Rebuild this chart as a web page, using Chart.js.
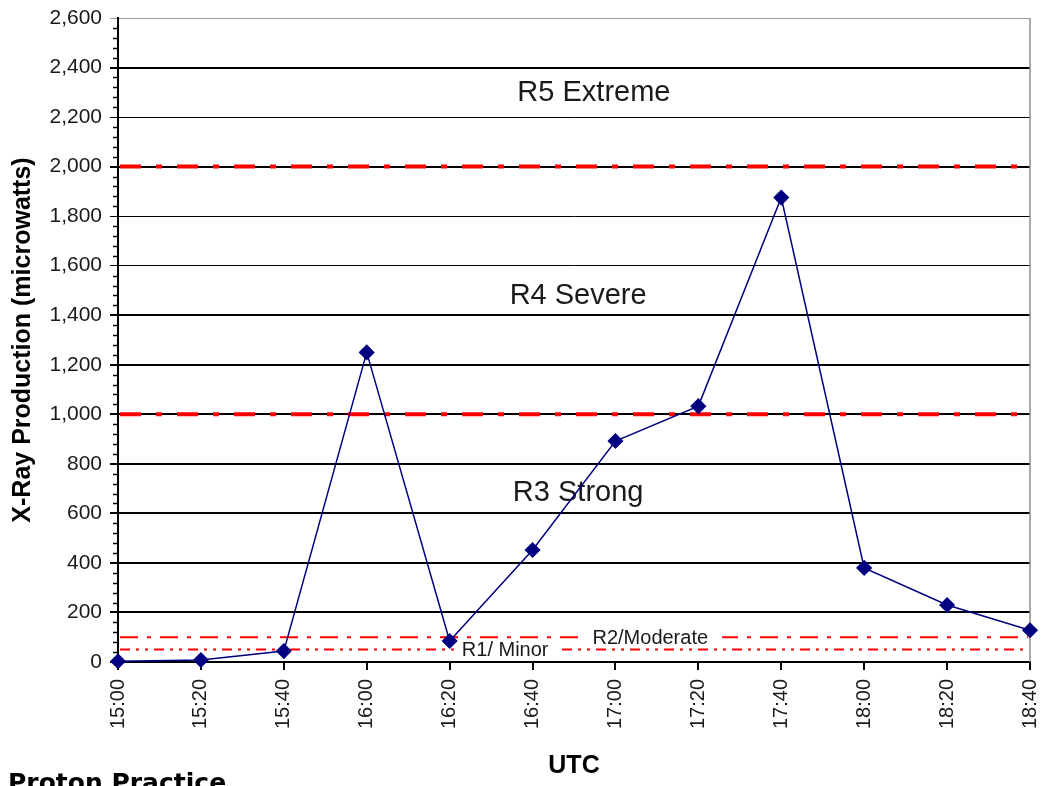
<!DOCTYPE html>
<html>
<head>
<meta charset="utf-8">
<script src="https://cdn.jsdelivr.net/npm/chart.js@4.4.1/dist/chart.umd.min.js"></script>
<style>
    html, body { margin: 0; padding: 0; background: #fff; overflow: hidden; }
    #marco { position: relative; width: 1045px; height: 786px; }
    #practica {
        position: absolute; left: 8px; top: 770px;
        font: bold 25px "DejaVu Sans", sans-serif; line-height: 1; color: #000;
        white-space: nowrap;
    }
</style>
</head>
<body>
<div id="marco">
    <canvas id="grafico" width="1045" height="786"></canvas>
    <div id="practica">Proton Practice</div>
</div>
<script>
// ---------------------------------------------------------
// DATOS
// ---------------------------------------------------------
const horas = ['15:00', '15:20', '15:40', '16:00', '16:20', '16:40', '17:00', '17:20', '17:40', '18:00', '18:20', '18:40'];
const rayosX = [3, 8, 44, 1250, 85, 452, 892, 1033, 1875, 380, 230, 128];

const umbrales = [2000, 1000, 100, 50];
const zonasTexto = ['R5 Extreme', 'R4 Severe', 'R3 Strong', 'R2/Moderate', 'R1/ Minor'];
const zonasValor = [2300, 1480, 686, 100, 50];

// ---------------------------------------------------------
// ESTILOS DE LAS LINEAS DE UMBRAL Y ETIQUETAS
// ---------------------------------------------------------
const estiloUmbral = [
    { ancho: 4, guion: [21, 15, 6, 15] },
    { ancho: 4, guion: [21, 15, 6, 15] },
    { ancho: 2, guion: [18, 9, 4, 9] },
    { ancho: 2, guion: [10, 6, 3, 6, 3, 6] }
];
// indice de categoria (posicion x), tamaño de letra, hueco blanco
const estiloZona = [
    { idx: 5.74, tam: 29, hueco: 0 },
    { idx: 5.55, tam: 29, hueco: 0 },
    { idx: 5.55, tam: 29, hueco: 0 },
    { idx: 6.42, tam: 20, hueco: 14 },
    { idx: 4.67, tam: 20, hueco: 8 }
];

const fuente = '"Liberation Sans", Arial, sans-serif';

const pluginUmbrales = {
    id: 'umbrales',
    beforeDatasetsDraw(chart) {
        const { ctx, chartArea, scales } = chart;
        const y = scales.y, x = scales.x;
        ctx.save();

        // borde derecho gris
        ctx.strokeStyle = '#8c8c8c';
        ctx.lineWidth = 1.5;
        ctx.beginPath();
        ctx.moveTo(chartArea.right, chartArea.top);
        ctx.lineTo(chartArea.right, chartArea.bottom);
        ctx.stroke();

        // marcas menores del eje Y cada 40
        ctx.strokeStyle = '#000';
        ctx.lineWidth = 1.5;
        for (let v = 0; v <= y.max; v += 40) {
            if (v % 200 === 0) continue;
            const py = Math.round(y.getPixelForValue(v)) + 0.5;
            ctx.beginPath();
            ctx.moveTo(chartArea.left - 5, py);
            ctx.lineTo(chartArea.left, py);
            ctx.stroke();
        }

        // lineas rojas de umbral
        ctx.strokeStyle = '#ff0000';
        umbrales.forEach((u, i) => {
            const py = y.getPixelForValue(u);
            ctx.lineWidth = estiloUmbral[i].ancho;
            ctx.setLineDash(estiloUmbral[i].guion);
            ctx.beginPath();
            ctx.moveTo(chartArea.left + 2, py);
            ctx.lineTo(chartArea.right - 2, py);
            ctx.stroke();
        });
        ctx.setLineDash([]);

        // etiquetas de zonas
        ctx.textAlign = 'center';
        ctx.textBaseline = 'middle';
        zonasTexto.forEach((t, i) => {
            const est = estiloZona[i];
            const px = x.left + (x.right - x.left) * est.idx / (horas.length - 1);
            const py = y.getPixelForValue(zonasValor[i]);
            ctx.font = est.tam + 'px ' + fuente;
            if (est.hueco) {
                const w = ctx.measureText(t).width;
                ctx.fillStyle = '#fff';
                ctx.fillRect(px - w / 2 - est.hueco, py - est.tam * 0.45, w + est.hueco * 2, est.tam * 0.9);
            }
            ctx.fillStyle = '#1a1a1a';
            ctx.fillText(t, px, py + 1);
        });
        ctx.restore();
    }
};

const gruesas = [2400, 2000, 1400, 1200, 1000, 800, 600, 400, 200, 0];

new Chart(document.getElementById('grafico'), {
    type: 'line',
    data: {
        labels: horas,
        datasets: [{
            data: rayosX,
            borderColor: '#000080',
            backgroundColor: '#000080',
            borderWidth: 1.5,
            pointStyle: 'rectRot',
            pointRadius: 7,
            pointHoverRadius: 7,
            tension: 0,
            clip: false
        }]
    },
    options: {
        responsive: false,
        animation: false,
        events: [],
        layout: { padding: { top: 18, right: 15, left: 0, bottom: 0 } },
        plugins: {
            legend: { display: false },
            tooltip: { enabled: false }
        },
        scales: {
            x: {
                offset: false,
                afterFit(scale) {
                    scale.height = 124;
                    scale.paddingLeft = 0;
                    scale.paddingRight = 0;
                },
                grid: { drawOnChartArea: false, drawTicks: true, tickLength: 8, color: '#000', lineWidth: 2 },
                border: { color: '#000', width: 2 },
                ticks: {
                    minRotation: 90, maxRotation: 90, padding: 9, autoSkip: false,
                    color: '#1a1a1a', font: { family: fuente, size: 20 }
                },
                title: {
                    display: true, text: 'UTC', color: '#000',
                    font: { family: fuente, size: 25, weight: 'bold' },
                    padding: { top: 0, bottom: 5 }
                }
            },
            y: {
                min: 0, max: 2600,
                afterFit(scale) {
                    scale.width = 118;
                    scale.paddingTop = 0;
                    scale.paddingBottom = 0;
                },
                ticks: {
                    stepSize: 200, padding: 8, color: '#1a1a1a',
                    font: { family: fuente, size: 21 },
                    callback: v => v.toLocaleString('en-US')
                },
                grid: {
                    tickLength: 8,
                    color: c => (c.tick && c.tick.value === 2600) ? '#999' : '#000',
                    lineWidth: c => (c.tick && gruesas.includes(c.tick.value)) ? 2 : 1
                },
                border: { color: '#000', width: 2 },
                title: {
                    display: true, text: 'X-Ray Production (microwatts)', color: '#000',
                    font: { family: fuente, size: 25, weight: 'bold' },
                    padding: { top: 8, bottom: 0 }
                }
            }
        }
    },
    plugins: [pluginUmbrales]
});
</script>
</body>
</html>
